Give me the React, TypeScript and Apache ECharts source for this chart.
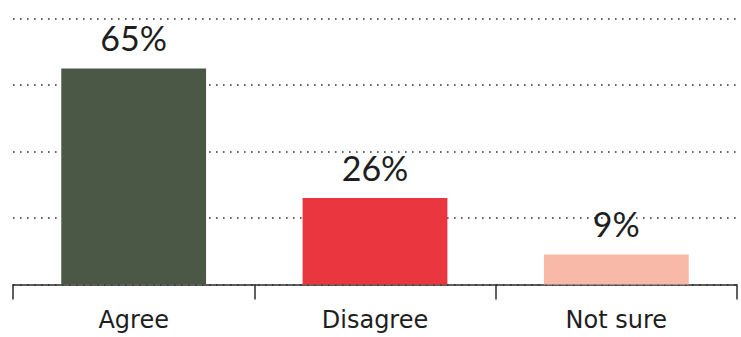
import React, { useEffect, useRef } from "react";
import * as echarts from "echarts";

const categories = ["Agree", "Disagree", "Not sure"];
const values = [65, 26, 9];
const barColors = ["#4c5846", "#e9363f", "#f8b9a9"];
const yTicks = [0, 20, 40, 60, 80];

const VALUE_FONT = "Lato, 'Open Sans', sans-serif";
const CATEGORY_FONT = "'DejaVu Sans', Lato, sans-serif";

export default function App() {
  const ref = useRef<HTMLDivElement>(null);

  useEffect(() => {
    if (!ref.current) return;
    const chart = echarts.init(ref.current, undefined, { renderer: "svg" });
    chart.setOption({
      animation: false,
      backgroundColor: "#ffffff",
      grid: { left: 13, right: 4, top: 18.5, bottom: 52.5, containLabel: false },
      xAxis: {
        type: "category",
        data: categories,
        axisLine: { show: true, lineStyle: { color: "#2b2b2b", width: 1.5 } },
        axisTick: { show: true, length: 15, lineStyle: { color: "#2b2b2b", width: 1.5 } },
        axisLabel: {
          margin: 23,
          fontFamily: CATEGORY_FONT,
          fontSize: 24,
          color: "#1e1e1e",
        },
      },
      yAxis: {
        type: "value",
        min: yTicks[0],
        max: yTicks[yTicks.length - 1],
        interval: 20,
        axisLine: { show: false },
        axisTick: { show: false },
        axisLabel: { show: false },
        splitLine: {
          show: true,
          lineStyle: { color: "#333333", width: 1.6, type: [1.6, 5.4] },
        },
      },
      series: [
        {
          type: "bar",
          barWidth: "60%",
          data: values.map((v, i) => ({
            value: v,
            itemStyle: { color: barColors[i] },
          })),
          label: {
            show: true,
            position: "top",
            distance: 14,
            formatter: "{c}%",
            fontFamily: VALUE_FONT,
            fontSize: 34,
            color: "#1e1e1e",
          },
        },
      ],
    });
    return () => chart.dispose();
  }, []);

  return (
    <div
      ref={ref}
      style={{ position: "fixed", left: 0, top: 0, width: 741, height: 337 }}
    />
  );
}
